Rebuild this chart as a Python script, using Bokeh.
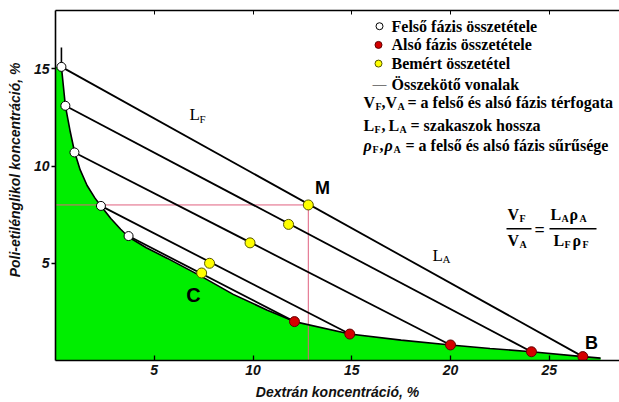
from math import pi
from bokeh.plotting import figure
from bokeh.models import Range1d, FixedTicker, LinearAxis, Label
from bokeh.embed import file_html
from bokeh.resources import INLINE

# ---- data ----
x_ticks = [5, 10, 15, 20, 25]
y_ticks = [5, 10, 15]

# upper phase compositions (white)
upper_x = [0.3, 0.5, 0.96, 2.3, 3.7]
upper_y = [15.1, 13.1, 10.7, 7.95, 6.4]
# lower phase compositions (red)
lower_x = [26.7, 24.1, 20.0, 14.9, 12.1]
lower_y = [0.2, 0.45, 0.8, 1.36, 2.0]
# measured (feed) compositions (yellow)
feed_x = [12.8, 11.8, 9.85, 7.8, 7.4]
feed_y = [8.0, 7.0, 6.05, 5.0, 4.5]
# binodal curve
curve_x = [0.3, 0.3, 0.5, 0.75, 0.96, 1.25, 1.6, 2.0, 2.3, 2.8, 3.3, 3.7, 4.6, 5.67, 7.34, 9.0, 10.7,
           12.1, 14.9, 17.5, 20.0, 22.0, 24.1, 26.7, 27.6]
curve_y = [16.1, 15.1, 13.1, 11.75, 10.75, 9.8, 9.0, 8.35, 7.95, 7.3, 6.75, 6.35, 5.8, 5.25, 4.35,
           3.4, 2.6, 2.0, 1.36, 1.05, 0.8, 0.62, 0.45, 0.2, 0.12]

W, H = 619, 402
FL, FR, FT, FB = 55, 619, 10, 366   # frame edges in pixels
X_END = (FR - FL) / 19.75
Y_END = 18.0


def X(px):
    return (px - FL) * X_END / (FR - FL)


def Y(py):
    return (FB - py) * Y_END / (FB - FT)


p = figure(width=W, height=H, x_range=Range1d(0, X_END), y_range=Range1d(0, Y_END),
           output_backend="svg", toolbar_location=None,
           min_border_left=FL, min_border_right=0, min_border_top=FT, min_border_bottom=H - FB)
p.outline_line_color = None
p.xgrid.grid_line_color = None
p.ygrid.grid_line_color = None

for ax, ticks in ((p.xaxis, x_ticks), (p.yaxis, y_ticks)):
    ax.ticker = FixedTicker(ticks=ticks)
    ax.minor_tick_line_color = None
    ax.axis_line_width = 1.6
    ax.axis_line_color = "black"
    ax.major_tick_line_color = "black"
    ax.major_tick_line_width = 1.3
    ax.major_label_text_font = "Liberation Sans"
    ax.major_label_text_font_style = "bold italic"
    ax.major_label_text_font_size = "14px"
    ax.major_label_text_color = "#111111"
    ax.axis_label_text_font = "Liberation Sans"
    ax.axis_label_text_font_style = "bold italic"
    ax.axis_label_text_font_size = "14px"
    ax.axis_label_text_color = "#111111"
p.xaxis.major_tick_in = 5
p.xaxis.major_tick_out = 0
p.xaxis.major_label_standoff = 4
p.xaxis.axis_label = "Dextrán koncentráció, %"
p.xaxis.axis_label_standoff = 6
p.yaxis.major_tick_in = 0
p.yaxis.major_tick_out = 4
p.yaxis.major_label_standoff = 2
p.yaxis.axis_label = "\u00a0" * 8 + "Poli-etilénglikol koncentráció, %"
p.yaxis.axis_label_standoff = 8

top = LinearAxis(ticker=FixedTicker(ticks=x_ticks), major_label_text_font_size="1px",
                 major_label_text_color=None,
                 major_tick_in=4, major_tick_out=0, minor_tick_line_color=None,
                 major_label_standoff=0, axis_line_width=1.6, axis_line_color="black",
                 major_tick_line_color="black")
p.add_layout(top, "above")

# green two-phase region under the binodal
fill_x = [0] + curve_x[1:] + [curve_x[-1], 0]
fill_y = [curve_y[1]] + curve_y[1:] + [0, 0]
p.patch(fill_x, fill_y, fill_color="#00ee00", line_color=None)

# pink guides to M
p.line([0, feed_x[0], feed_x[0]], [feed_y[0], feed_y[0], 0], line_color="#e0607f", line_width=1)

# binodal curve
p.line(curve_x, curve_y, line_color="black", line_width=1.6)

# tie lines
p.segment(x0=upper_x, y0=upper_y, x1=lower_x, y1=lower_y, line_color="black", line_width=1.8)

p.scatter(upper_x, upper_y, size=9, fill_color="white", line_color="black", line_width=1)
p.scatter(lower_x, lower_y, size=10, fill_color="#d40000", line_color="#600000", line_width=1)
p.scatter(feed_x, feed_y, size=10, fill_color="#ffff00", line_color="#555500", line_width=1)


def lab(px, py, text, size, font="Liberation Serif", style="bold", align="left", angle=0.0):
    p.add_layout(Label(x=X(px), y=Y(py), text=text, text_font=font, text_font_style=style,
                       text_font_size=f"{size}px", text_align=align, text_baseline="middle",
                       text_color="black", angle=angle))


# legend
p.scatter([X(379)], [Y(26)], size=7, fill_color="white", line_color="black", line_width=1)
p.scatter([X(378)], [Y(45)], size=7, fill_color="#d40000", line_color="#600000", line_width=1)
p.scatter([X(378)], [Y(64)], size=7, fill_color="#ffff00", line_color="#555500", line_width=1)
lab(391, 26, "Felső fázis összetétele", 16)
lab(391, 45, "Alsó fázis összetétele", 16)
lab(391, 64, "Bemért összetétel", 16)
lab(372, 85, "—", 14, style="normal")
lab(391, 85, "Összekötő vonalak", 16)

lab(363, 104, "V", 16); lab(375, 108, "F", 10)
lab(381, 104, ",", 16)
lab(385, 104, "V", 16); lab(397, 108, "A", 10)
lab(407, 104, "= a felső és alsó fázis térfogata", 16)

lab(363, 127, "L", 16); lab(374, 131, "F", 10)
lab(381, 127, ",", 16)
lab(388, 127, "L", 16); lab(399, 131, "A", 10)
lab(410, 127, "= szakaszok hossza", 16)

lab(363, 147, "ρ", 16, style="bold italic"); lab(372, 151, "F", 10)
lab(379, 147, ",", 16)
lab(384, 147, "ρ", 16, style="bold italic"); lab(393, 151, "A", 10)
lab(405, 147, "= a felső és alsó fázis sűrűsége", 16)

# segment length labels
lab(189, 116, "L", 17, style="normal"); lab(199, 120, "F", 11, style="normal")
lab(432, 259, "L", 17, style="normal"); lab(442, 263, "A", 11, style="normal")

# point labels
lab(322, 191, "M", 18, font="Liberation Sans", style="bold", align="center")
lab(193, 299, "C", 20, font="Liberation Sans", style="bold", align="center")
lab(591, 348, "B", 18, font="Liberation Sans", style="bold", align="center")

# formula
lab(507, 218, "V", 16); lab(519, 222, "F", 10)
lab(507, 244, "V", 16); lab(519, 248, "A", 10)
lab(534, 233, "=", 18)
lab(550, 218, "L", 16); lab(561, 222, "A", 10); lab(569, 218, "ρ", 16); lab(579, 222, "A", 10)
lab(553, 244, "L", 16); lab(564, 248, "F", 10); lab(572, 244, "ρ", 16); lab(582, 248, "F", 10)
p.segment(x0=[X(506), X(549)], y0=[Y(232), Y(232)], x1=[X(531), X(596)], y1=[Y(232), Y(232)],
          line_color="black", line_width=1.3)

open("out.html", "w").write(file_html(p, INLINE))
